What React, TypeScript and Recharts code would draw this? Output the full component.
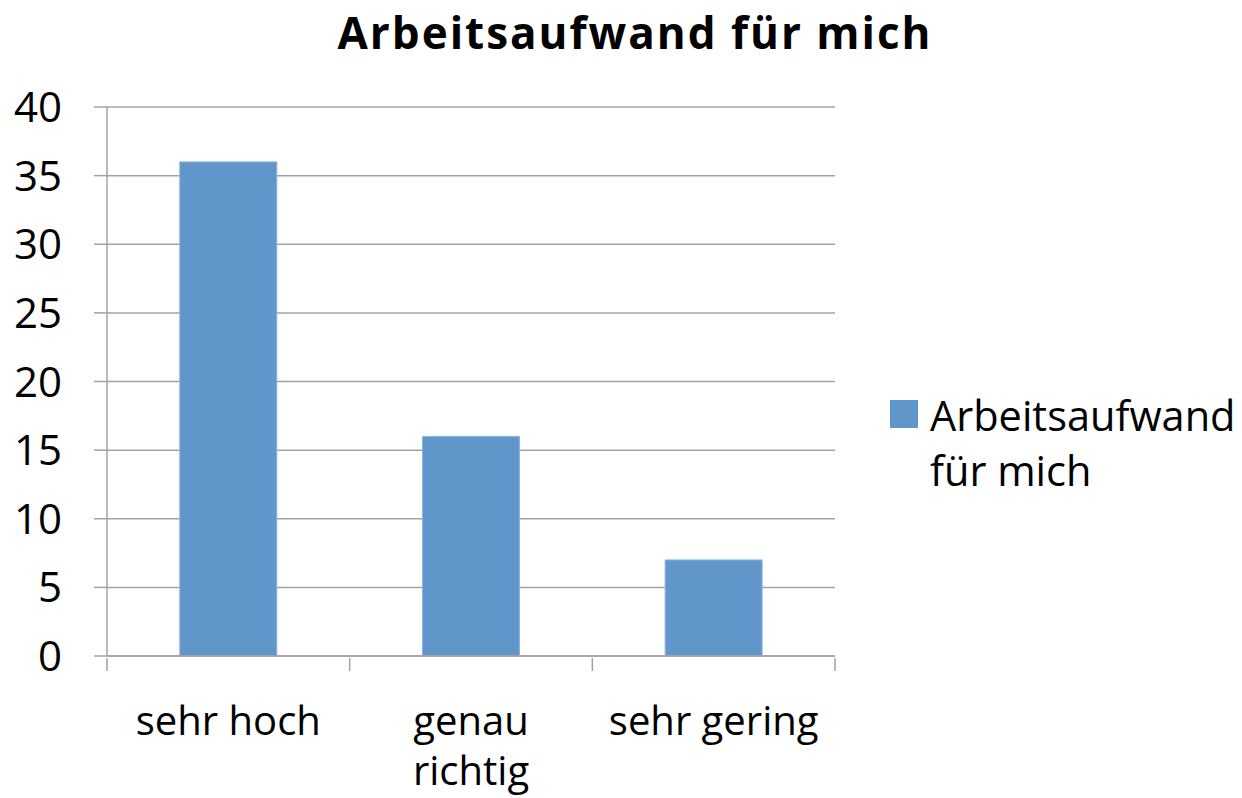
import React from 'react';
import { BarChart, Bar, XAxis, YAxis, CartesianGrid, Legend } from 'recharts';

const categories = ['sehr hoch', 'genau richtig', 'sehr gering'];
const values = [36, 16, 7];
const yTicks = [0, 5, 10, 15, 20, 25, 30, 35, 40];
const seriesName = 'Arbeitsaufwand für mich';
const titleText = 'Arbeitsaufwand für mich';

const data = categories.map((c, i) => ({ name: c, value: values[i] }));

const FONT = '"Open Sans", sans-serif';
const GRID = '#a3a3a3';
const BAR = '#6096C9';
const LEGEND_W = 352;

const XTick = (props: any) => {
  const { x, y, payload, index, visibleTicksCount } = props;
  const text: string = payload.value;
  const half = payload.offset && payload.offset > 0 ? payload.offset : 121.33;
  const lines = text.length > 12 ? text.split(' ') : [text];
  const top = y - 8;
  return (
    <g>
      <line x1={x - half} x2={x - half} y1={top} y2={top + 13} stroke={GRID} strokeWidth={1.5} />
      {index === visibleTicksCount - 1 && (
        <line x1={x + half} x2={x + half} y1={top} y2={top + 13} stroke={GRID} strokeWidth={1.5} />
      )}
      {lines.map((l, i) => (
        <text
          key={i}
          x={x}
          y={y + 69 + i * 50}
          textAnchor="middle"
          fontFamily={FONT}
          fontSize={40}
          fill="#000"
        >
          {l}
        </text>
      ))}
    </g>
  );
};

const YTick = (props: any) => {
  const { y, payload } = props;
  return (
    <text x={62} y={y + 15} textAnchor="end" fontFamily={FONT} fontSize={42} fill="#000">
      {payload.value}
    </text>
  );
};

const LegendContent = () => (
  <div style={{ display: 'flex', alignItems: 'flex-start', fontFamily: FONT }}>
    <div style={{ width: 28, height: 28, background: BAR, marginTop: 5, marginRight: 12, flexShrink: 0 }} />
    <div style={{ fontSize: 41.5, lineHeight: '55px', width: 310, color: '#000', marginTop: -7 }}>
      Arbeitsaufwand
      <br />
      für mich
    </div>
  </div>
);

export default function App() {
  return (
    <div style={{ position: 'absolute', left: 0, top: 0, width: 1242, height: 798, background: '#fff' }}>
      <div
        style={{
          position: 'absolute',
          left: 0,
          width: 1270,
          top: 0,
          textAlign: 'center',
          fontFamily: FONT,
          fontWeight: 700,
          fontSize: 44,
          letterSpacing: 2,
          lineHeight: '64px',
          color: '#000',
        }}
      >
        {titleText}
      </div>
      <BarChart
        width={1242}
        height={798}
        data={data}
        margin={{ top: 107, right: 407 - LEGEND_W, bottom: 0, left: 0 }}
        barCategoryGap="30%"
      >
        <CartesianGrid vertical={false} stroke={GRID} strokeWidth={1.5} />
        <XAxis
          dataKey="name"
          height={142}
          tick={<XTick />}
          tickLine={false}
          axisLine={{ stroke: GRID, strokeWidth: 1.5 }}
          tickSize={8}
          interval={0}
        />
        <YAxis
          width={107}
          domain={[0, 40]}
          ticks={yTicks}
          tick={<YTick />}
          tickLine={{ stroke: GRID, strokeWidth: 1.5 }}
          axisLine={{ stroke: GRID, strokeWidth: 1.5 }}
          tickSize={13}
          interval={0}
        />
        <Legend
          layout="vertical"
          align="right"
          verticalAlign="middle"
          content={<LegendContent />}
          wrapperStyle={{ left: 890, top: 395, width: LEGEND_W }}
        />
        <Bar dataKey="value" name={seriesName} fill={BAR} stroke="#8DB3E2" strokeWidth={1} isAnimationActive={false} />
      </BarChart>
    </div>
  );
}
